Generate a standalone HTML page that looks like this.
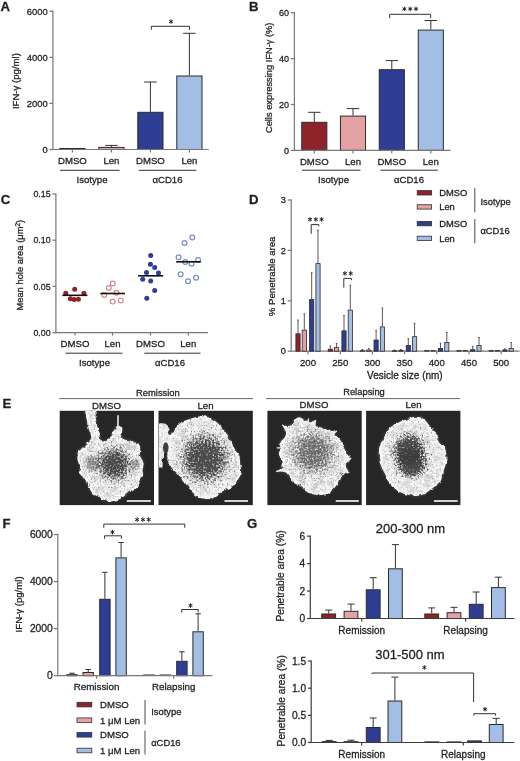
<!DOCTYPE html>
<html><head><meta charset="utf-8"><title>Figure</title>
<style>
html,body{margin:0;padding:0;background:#fff;}
body{width:520px;height:761px;overflow:hidden;font-family:"Liberation Sans",sans-serif;}
svg{display:block;will-change:transform;filter:blur(0.3px);}
text{font-family:"Liberation Sans",sans-serif;stroke:#1e1e1e;stroke-width:0.28px;paint-order:stroke;}
</style></head><body>
<svg width="520" height="761" viewBox="0 0 520 761" font-family="Liberation Sans, sans-serif" fill="#1e1e1e"><defs>
<radialGradient id="core"><stop offset="0" stop-color="#000" stop-opacity="1"/><stop offset="0.45" stop-color="#000" stop-opacity="0.85"/><stop offset="1" stop-color="#000" stop-opacity="0"/></radialGradient>
<filter id="glow" x="-20%" y="-20%" width="140%" height="140%"><feGaussianBlur stdDeviation="1.8"/></filter>
<filter id="rimblur" x="-10%" y="-10%" width="120%" height="120%"><feGaussianBlur stdDeviation="0.8"/></filter>
<filter id="rough0" x="-10%" y="-10%" width="120%" height="120%"><feTurbulence type="fractalNoise" baseFrequency="0.22" numOctaves="2" seed="2" result="t"/><feDisplacementMap in="SourceGraphic" in2="t" scale="4" xChannelSelector="R" yChannelSelector="G"/></filter>
<filter id="fleck0" x="0" y="0" width="100%" height="100%"><feTurbulence type="fractalNoise" baseFrequency="0.16" numOctaves="2" seed="20" result="t1"/><feColorMatrix in="t1" type="matrix" values="0 0 0 0 0.55  0 0 0 0 0.55  0 0 0 0 0.55  2.4 0 0 0 -1.05" result="a1"/><feTurbulence type="fractalNoise" baseFrequency="0.55" numOctaves="2" seed="60" result="t2"/><feColorMatrix in="t2" type="matrix" values="0 0 0 0 0.4  0 0 0 0 0.4  0 0 0 0 0.4  3.0 0 0 0 -1.45" result="a2"/><feMerge><feMergeNode in="a1"/><feMergeNode in="a2"/></feMerge></filter>
<filter id="dither0" x="-5%" y="-5%" width="110%" height="110%"><feTurbulence type="fractalNoise" baseFrequency="0.55" numOctaves="2" seed="40" result="n"/><feColorMatrix in="n" type="matrix" values="0 0 0 0 0  0 0 0 0 0  0 0 0 0 0  1 0 0 0 0" result="na"/><feComposite in="SourceAlpha" in2="na" operator="arithmetic" k1="0" k2="1" k3="1.8" k4="-0.9" result="sum"/><feComponentTransfer in="sum" result="th"><feFuncA type="linear" slope="1.5" intercept="-0.35"/></feComponentTransfer><feFlood flood-color="#4a4a4a"/><feComposite in2="th" operator="in"/></filter>
<filter id="rough1" x="-10%" y="-10%" width="120%" height="120%"><feTurbulence type="fractalNoise" baseFrequency="0.22" numOctaves="2" seed="3" result="t"/><feDisplacementMap in="SourceGraphic" in2="t" scale="4" xChannelSelector="R" yChannelSelector="G"/></filter>
<filter id="fleck1" x="0" y="0" width="100%" height="100%"><feTurbulence type="fractalNoise" baseFrequency="0.16" numOctaves="2" seed="21" result="t1"/><feColorMatrix in="t1" type="matrix" values="0 0 0 0 0.55  0 0 0 0 0.55  0 0 0 0 0.55  2.4 0 0 0 -1.05" result="a1"/><feTurbulence type="fractalNoise" baseFrequency="0.55" numOctaves="2" seed="61" result="t2"/><feColorMatrix in="t2" type="matrix" values="0 0 0 0 0.4  0 0 0 0 0.4  0 0 0 0 0.4  3.0 0 0 0 -1.45" result="a2"/><feMerge><feMergeNode in="a1"/><feMergeNode in="a2"/></feMerge></filter>
<filter id="dither1" x="-5%" y="-5%" width="110%" height="110%"><feTurbulence type="fractalNoise" baseFrequency="0.55" numOctaves="2" seed="41" result="n"/><feColorMatrix in="n" type="matrix" values="0 0 0 0 0  0 0 0 0 0  0 0 0 0 0  1 0 0 0 0" result="na"/><feComposite in="SourceAlpha" in2="na" operator="arithmetic" k1="0" k2="1" k3="1.7" k4="-0.85" result="sum"/><feComponentTransfer in="sum" result="th"><feFuncA type="linear" slope="1.6" intercept="-0.35"/></feComponentTransfer><feFlood flood-color="#4c4c4c"/><feComposite in2="th" operator="in"/></filter>
<filter id="rough2" x="-10%" y="-10%" width="120%" height="120%"><feTurbulence type="fractalNoise" baseFrequency="0.22" numOctaves="2" seed="4" result="t"/><feDisplacementMap in="SourceGraphic" in2="t" scale="4" xChannelSelector="R" yChannelSelector="G"/></filter>
<filter id="fleck2" x="0" y="0" width="100%" height="100%"><feTurbulence type="fractalNoise" baseFrequency="0.16" numOctaves="2" seed="22" result="t1"/><feColorMatrix in="t1" type="matrix" values="0 0 0 0 0.55  0 0 0 0 0.55  0 0 0 0 0.55  2.4 0 0 0 -1.05" result="a1"/><feTurbulence type="fractalNoise" baseFrequency="0.55" numOctaves="2" seed="62" result="t2"/><feColorMatrix in="t2" type="matrix" values="0 0 0 0 0.4  0 0 0 0 0.4  0 0 0 0 0.4  3.0 0 0 0 -1.45" result="a2"/><feMerge><feMergeNode in="a1"/><feMergeNode in="a2"/></feMerge></filter>
<filter id="dither2" x="-5%" y="-5%" width="110%" height="110%"><feTurbulence type="fractalNoise" baseFrequency="0.55" numOctaves="2" seed="42" result="n"/><feColorMatrix in="n" type="matrix" values="0 0 0 0 0  0 0 0 0 0  0 0 0 0 0  1 0 0 0 0" result="na"/><feComposite in="SourceAlpha" in2="na" operator="arithmetic" k1="0" k2="1" k3="2.0" k4="-1.0" result="sum"/><feComponentTransfer in="sum" result="th"><feFuncA type="linear" slope="1.25" intercept="-0.3"/></feComponentTransfer><feFlood flood-color="#505050"/><feComposite in2="th" operator="in"/></filter>
<filter id="rough3" x="-10%" y="-10%" width="120%" height="120%"><feTurbulence type="fractalNoise" baseFrequency="0.22" numOctaves="2" seed="5" result="t"/><feDisplacementMap in="SourceGraphic" in2="t" scale="4" xChannelSelector="R" yChannelSelector="G"/></filter>
<filter id="fleck3" x="0" y="0" width="100%" height="100%"><feTurbulence type="fractalNoise" baseFrequency="0.16" numOctaves="2" seed="23" result="t1"/><feColorMatrix in="t1" type="matrix" values="0 0 0 0 0.55  0 0 0 0 0.55  0 0 0 0 0.55  2.4 0 0 0 -1.05" result="a1"/><feTurbulence type="fractalNoise" baseFrequency="0.55" numOctaves="2" seed="63" result="t2"/><feColorMatrix in="t2" type="matrix" values="0 0 0 0 0.4  0 0 0 0 0.4  0 0 0 0 0.4  3.0 0 0 0 -1.45" result="a2"/><feMerge><feMergeNode in="a1"/><feMergeNode in="a2"/></feMerge></filter>
<filter id="dither3" x="-5%" y="-5%" width="110%" height="110%"><feTurbulence type="fractalNoise" baseFrequency="0.55" numOctaves="2" seed="43" result="n"/><feColorMatrix in="n" type="matrix" values="0 0 0 0 0  0 0 0 0 0  0 0 0 0 0  1 0 0 0 0" result="na"/><feComposite in="SourceAlpha" in2="na" operator="arithmetic" k1="0" k2="1" k3="1.5" k4="-0.75" result="sum"/><feComponentTransfer in="sum" result="th"><feFuncA type="linear" slope="1.9" intercept="-0.4"/></feComponentTransfer><feFlood flood-color="#3a3a3a"/><feComposite in2="th" operator="in"/></filter>
</defs><text x="0.6" y="10.6" font-size="13.2" text-anchor="start" font-weight="bold" >A</text>
<line x1="52.9" y1="10.6" x2="52.9" y2="150.1" stroke="#777777" stroke-width="1.2"/>
<line x1="49.4" y1="149.5" x2="52.9" y2="149.5" stroke="#777777" stroke-width="1.2"/>
<text x="47.6" y="152.87" font-size="9.4" text-anchor="end" font-weight="normal" >0</text>
<line x1="49.4" y1="103.4" x2="52.9" y2="103.4" stroke="#777777" stroke-width="1.2"/>
<text x="47.6" y="106.77" font-size="9.4" text-anchor="end" font-weight="normal" >2000</text>
<line x1="49.4" y1="57.3" x2="52.9" y2="57.3" stroke="#777777" stroke-width="1.2"/>
<text x="47.6" y="60.67" font-size="9.4" text-anchor="end" font-weight="normal" >4000</text>
<line x1="49.4" y1="11.2" x2="52.9" y2="11.2" stroke="#777777" stroke-width="1.2"/>
<text x="47.6" y="14.57" font-size="9.4" text-anchor="end" font-weight="normal" >6000</text>
<text x="0" y="0" font-size="9.6" text-anchor="middle" transform="translate(19 81.1) rotate(-90)" >IFN-&#947; (pg/ml)</text>
<rect x="59.8" y="148.5" width="25.2" height="1" fill="#8e2329" stroke="#2b2b2b" stroke-width="1"/>
<line x1="111.4" y1="146.9" x2="111.4" y2="145.4" stroke="#333" stroke-width="1"/>
<line x1="105.15" y1="145.4" x2="117.65" y2="145.4" stroke="#333" stroke-width="1"/>
<rect x="98.8" y="147.4" width="25.2" height="2.1" fill="#e4a1a4" stroke="#2b2b2b" stroke-width="1"/>
<line x1="150.4" y1="111.8" x2="150.4" y2="82" stroke="#333" stroke-width="1"/>
<line x1="144.15" y1="82" x2="156.65" y2="82" stroke="#333" stroke-width="1"/>
<rect x="137.8" y="112.3" width="25.2" height="37.2" fill="#2f3e94" stroke="#2b2b2b" stroke-width="1"/>
<line x1="189.4" y1="75.5" x2="189.4" y2="33.3" stroke="#333" stroke-width="1"/>
<line x1="183.15" y1="33.3" x2="195.65" y2="33.3" stroke="#333" stroke-width="1"/>
<rect x="176.8" y="76" width="25.2" height="73.5" fill="#a3bee4" stroke="#2b2b2b" stroke-width="1"/>
<line x1="52.9" y1="149.5" x2="208.8" y2="149.5" stroke="#777777" stroke-width="1.2"/>
<line x1="72.4" y1="149.5" x2="72.4" y2="152.5" stroke="#777777" stroke-width="1.2"/>
<line x1="111.4" y1="149.5" x2="111.4" y2="152.5" stroke="#777777" stroke-width="1.2"/>
<line x1="150.4" y1="149.5" x2="150.4" y2="152.5" stroke="#777777" stroke-width="1.2"/>
<line x1="189.4" y1="149.5" x2="189.4" y2="152.5" stroke="#777777" stroke-width="1.2"/>
<text x="72.4" y="164.24" font-size="9.6" text-anchor="middle" font-weight="normal" >DMSO</text>
<text x="111.4" y="164.24" font-size="9.6" text-anchor="middle" font-weight="normal" >Len</text>
<text x="150.4" y="164.24" font-size="9.6" text-anchor="middle" font-weight="normal" >DMSO</text>
<text x="189.4" y="164.24" font-size="9.6" text-anchor="middle" font-weight="normal" >Len</text>
<line x1="60" y1="170.3" x2="119.6" y2="170.3" stroke="#333" stroke-width="1"/>
<line x1="138.8" y1="170.3" x2="196.3" y2="170.3" stroke="#333" stroke-width="1"/>
<text x="92" y="182.74" font-size="9.6" text-anchor="middle" font-weight="normal" >Isotype</text>
<text x="167.5" y="182.74" font-size="9.6" text-anchor="middle" font-weight="normal" >&#945;CD16</text>
<polyline points="151.3,29.8 151.3,26.3 189.5,26.3 189.5,29.8" fill="none" stroke="#333" stroke-width="1"/>
<line x1="171" y1="19.35" x2="171" y2="23.85" stroke="#222" stroke-width="1"/>
<line x1="169.05" y1="20.48" x2="172.95" y2="22.73" stroke="#222" stroke-width="1"/>
<line x1="172.95" y1="20.48" x2="169.05" y2="22.73" stroke="#222" stroke-width="1"/>
<text x="249" y="10.6" font-size="13.2" text-anchor="start" font-weight="bold" >B</text>
<line x1="294.4" y1="12" x2="294.4" y2="151" stroke="#777777" stroke-width="1.2"/>
<line x1="290.9" y1="150.4" x2="294.4" y2="150.4" stroke="#777777" stroke-width="1.2"/>
<text x="289.1" y="153.62" font-size="9" text-anchor="end" font-weight="normal" >0</text>
<line x1="290.9" y1="104.5" x2="294.4" y2="104.5" stroke="#777777" stroke-width="1.2"/>
<text x="289.1" y="107.72" font-size="9" text-anchor="end" font-weight="normal" >20</text>
<line x1="290.9" y1="58.6" x2="294.4" y2="58.6" stroke="#777777" stroke-width="1.2"/>
<text x="289.1" y="61.82" font-size="9" text-anchor="end" font-weight="normal" >40</text>
<line x1="290.9" y1="12.7" x2="294.4" y2="12.7" stroke="#777777" stroke-width="1.2"/>
<text x="289.1" y="15.92" font-size="9" text-anchor="end" font-weight="normal" >60</text>
<text x="0" y="0" font-size="9.3" text-anchor="middle" transform="translate(272.43 77.8) rotate(-90)" >Cells expressing IFN-&#947; (%)</text>
<line x1="314.3" y1="121.8" x2="314.3" y2="112.3" stroke="#333" stroke-width="1"/>
<line x1="308.05" y1="112.3" x2="320.55" y2="112.3" stroke="#333" stroke-width="1"/>
<rect x="301.75" y="122.3" width="25.1" height="28.1" fill="#8e2329" stroke="#2b2b2b" stroke-width="1"/>
<line x1="353" y1="115.6" x2="353" y2="108.6" stroke="#333" stroke-width="1"/>
<line x1="346.75" y1="108.6" x2="359.25" y2="108.6" stroke="#333" stroke-width="1"/>
<rect x="340.45" y="116.1" width="25.1" height="34.3" fill="#e4a1a4" stroke="#2b2b2b" stroke-width="1"/>
<line x1="391.8" y1="69.2" x2="391.8" y2="60.6" stroke="#333" stroke-width="1"/>
<line x1="385.55" y1="60.6" x2="398.05" y2="60.6" stroke="#333" stroke-width="1"/>
<rect x="379.25" y="69.7" width="25.1" height="80.7" fill="#2f3e94" stroke="#2b2b2b" stroke-width="1"/>
<line x1="430.8" y1="29.6" x2="430.8" y2="20.5" stroke="#333" stroke-width="1"/>
<line x1="424.55" y1="20.5" x2="437.05" y2="20.5" stroke="#333" stroke-width="1"/>
<rect x="418.25" y="30.1" width="25.1" height="120.3" fill="#a3bee4" stroke="#2b2b2b" stroke-width="1"/>
<line x1="294.4" y1="150.4" x2="450.5" y2="150.4" stroke="#777777" stroke-width="1.2"/>
<line x1="314.3" y1="150.4" x2="314.3" y2="153.4" stroke="#777777" stroke-width="1.2"/>
<line x1="353" y1="150.4" x2="353" y2="153.4" stroke="#777777" stroke-width="1.2"/>
<line x1="391.8" y1="150.4" x2="391.8" y2="153.4" stroke="#777777" stroke-width="1.2"/>
<line x1="430.8" y1="150.4" x2="430.8" y2="153.4" stroke="#777777" stroke-width="1.2"/>
<text x="314.3" y="164.84" font-size="9.6" text-anchor="middle" font-weight="normal" >DMSO</text>
<text x="353" y="164.84" font-size="9.6" text-anchor="middle" font-weight="normal" >Len</text>
<text x="391.8" y="164.84" font-size="9.6" text-anchor="middle" font-weight="normal" >DMSO</text>
<text x="430.8" y="164.84" font-size="9.6" text-anchor="middle" font-weight="normal" >Len</text>
<line x1="302" y1="170.2" x2="360.4" y2="170.2" stroke="#333" stroke-width="1"/>
<line x1="380.4" y1="170.2" x2="437.9" y2="170.2" stroke="#333" stroke-width="1"/>
<text x="333.5" y="183.34" font-size="9.6" text-anchor="middle" font-weight="normal" >Isotype</text>
<text x="409" y="183.34" font-size="9.6" text-anchor="middle" font-weight="normal" >&#945;CD16</text>
<polyline points="389.7,18.3 389.7,14.3 430.6,14.3 430.6,18.3" fill="none" stroke="#333" stroke-width="1"/>
<line x1="404.4" y1="6.65" x2="404.4" y2="11.15" stroke="#222" stroke-width="1"/>
<line x1="402.45" y1="7.78" x2="406.35" y2="10.03" stroke="#222" stroke-width="1"/>
<line x1="406.35" y1="7.78" x2="402.45" y2="10.03" stroke="#222" stroke-width="1"/>
<line x1="410.2" y1="6.65" x2="410.2" y2="11.15" stroke="#222" stroke-width="1"/>
<line x1="408.25" y1="7.78" x2="412.15" y2="10.03" stroke="#222" stroke-width="1"/>
<line x1="412.15" y1="7.78" x2="408.25" y2="10.03" stroke="#222" stroke-width="1"/>
<line x1="416" y1="6.65" x2="416" y2="11.15" stroke="#222" stroke-width="1"/>
<line x1="414.05" y1="7.78" x2="417.95" y2="10.03" stroke="#222" stroke-width="1"/>
<line x1="417.95" y1="7.78" x2="414.05" y2="10.03" stroke="#222" stroke-width="1"/>
<text x="0.7" y="204" font-size="13.2" text-anchor="start" font-weight="bold" >C</text>
<line x1="55.9" y1="193.4" x2="55.9" y2="333.2" stroke="#777777" stroke-width="1.2"/>
<line x1="52.4" y1="332.6" x2="55.9" y2="332.6" stroke="#777777" stroke-width="1.2"/>
<text x="50.6" y="335.75" font-size="8.8" text-anchor="end" font-weight="normal" >0.00</text>
<line x1="52.4" y1="286.4" x2="55.9" y2="286.4" stroke="#777777" stroke-width="1.2"/>
<text x="50.6" y="289.55" font-size="8.8" text-anchor="end" font-weight="normal" >0.05</text>
<line x1="52.4" y1="240.2" x2="55.9" y2="240.2" stroke="#777777" stroke-width="1.2"/>
<text x="50.6" y="243.35" font-size="8.8" text-anchor="end" font-weight="normal" >0.10</text>
<line x1="52.4" y1="194" x2="55.9" y2="194" stroke="#777777" stroke-width="1.2"/>
<text x="50.6" y="197.15" font-size="8.8" text-anchor="end" font-weight="normal" >0.15</text>
<text x="0" y="0" font-size="9.4" text-anchor="middle" transform="translate(23.35 265.2) rotate(-90)" >Mean hole area (&#956;m<tspan font-size="6.5" dy="-3.5">2</tspan><tspan dy="3.5">)</tspan></text>
<line x1="55.9" y1="332.6" x2="208" y2="332.6" stroke="#777777" stroke-width="1.2"/>
<line x1="75" y1="332.6" x2="75" y2="335.6" stroke="#777777" stroke-width="1.2"/>
<line x1="112.5" y1="332.6" x2="112.5" y2="335.6" stroke="#777777" stroke-width="1.2"/>
<line x1="150.5" y1="332.6" x2="150.5" y2="335.6" stroke="#777777" stroke-width="1.2"/>
<line x1="188.3" y1="332.6" x2="188.3" y2="335.6" stroke="#777777" stroke-width="1.2"/>
<text x="75" y="347.24" font-size="9.6" text-anchor="middle" font-weight="normal" >DMSO</text>
<text x="112.5" y="347.24" font-size="9.6" text-anchor="middle" font-weight="normal" >Len</text>
<text x="150.5" y="347.24" font-size="9.6" text-anchor="middle" font-weight="normal" >DMSO</text>
<text x="188.3" y="347.24" font-size="9.6" text-anchor="middle" font-weight="normal" >Len</text>
<line x1="65.5" y1="353.2" x2="122.5" y2="353.2" stroke="#333" stroke-width="1"/>
<line x1="144.3" y1="353.2" x2="200.5" y2="353.2" stroke="#333" stroke-width="1"/>
<text x="94.5" y="366.44" font-size="9.6" text-anchor="middle" font-weight="normal" >Isotype</text>
<text x="170" y="366.44" font-size="9.6" text-anchor="middle" font-weight="normal" >&#945;CD16</text>
<circle cx="65.8" cy="293.2" r="2.5" fill="#8e2329"/>
<circle cx="74.7" cy="289.2" r="2.5" fill="#8e2329"/>
<circle cx="83.9" cy="293.2" r="2.5" fill="#8e2329"/>
<circle cx="70.4" cy="298.8" r="2.5" fill="#8e2329"/>
<circle cx="74.2" cy="299.6" r="2.5" fill="#8e2329"/>
<circle cx="78.4" cy="299.2" r="2.5" fill="#8e2329"/>
<circle cx="112.7" cy="283.5" r="2.4" fill="none" stroke="#d38a8d" stroke-width="1.2"/>
<circle cx="108.8" cy="288.1" r="2.4" fill="none" stroke="#d38a8d" stroke-width="1.2"/>
<circle cx="104.2" cy="295" r="2.4" fill="none" stroke="#d38a8d" stroke-width="1.2"/>
<circle cx="116.5" cy="292.7" r="2.4" fill="none" stroke="#d38a8d" stroke-width="1.2"/>
<circle cx="112.7" cy="301.6" r="2.4" fill="none" stroke="#d38a8d" stroke-width="1.2"/>
<circle cx="120.8" cy="300.4" r="2.4" fill="none" stroke="#d38a8d" stroke-width="1.2"/>
<circle cx="150.7" cy="255.4" r="2.5" fill="#2f3e94"/>
<circle cx="150.4" cy="264.3" r="2.5" fill="#2f3e94"/>
<circle cx="154.7" cy="267.4" r="2.5" fill="#2f3e94"/>
<circle cx="146.5" cy="272.6" r="2.5" fill="#2f3e94"/>
<circle cx="158.5" cy="273.1" r="2.5" fill="#2f3e94"/>
<circle cx="142.7" cy="279.2" r="2.5" fill="#2f3e94"/>
<circle cx="150.7" cy="281.1" r="2.5" fill="#2f3e94"/>
<circle cx="154.7" cy="290.5" r="2.5" fill="#2f3e94"/>
<circle cx="146.8" cy="298.2" r="2.5" fill="#2f3e94"/>
<circle cx="192.3" cy="237.5" r="2.4" fill="none" stroke="#7b8dbd" stroke-width="1.2"/>
<circle cx="184.5" cy="243" r="2.4" fill="none" stroke="#7b8dbd" stroke-width="1.2"/>
<circle cx="178.6" cy="257.2" r="2.4" fill="none" stroke="#7b8dbd" stroke-width="1.2"/>
<circle cx="185.3" cy="262" r="2.4" fill="none" stroke="#7b8dbd" stroke-width="1.2"/>
<circle cx="191.5" cy="263.8" r="2.4" fill="none" stroke="#7b8dbd" stroke-width="1.2"/>
<circle cx="198.1" cy="260" r="2.4" fill="none" stroke="#7b8dbd" stroke-width="1.2"/>
<circle cx="180.7" cy="274.2" r="2.4" fill="none" stroke="#7b8dbd" stroke-width="1.2"/>
<circle cx="188.1" cy="281.2" r="2.4" fill="none" stroke="#7b8dbd" stroke-width="1.2"/>
<circle cx="196.1" cy="277.7" r="2.4" fill="none" stroke="#7b8dbd" stroke-width="1.2"/>
<line x1="62.4" y1="295.3" x2="87.4" y2="295.3" stroke="#111" stroke-width="1.6"/>
<line x1="100.4" y1="293.5" x2="125" y2="293.5" stroke="#111" stroke-width="1.6"/>
<line x1="138" y1="275.8" x2="163.2" y2="275.8" stroke="#111" stroke-width="1.6"/>
<line x1="176.2" y1="261.8" x2="200.8" y2="261.8" stroke="#111" stroke-width="1.6"/>
<text x="249" y="204.1" font-size="13.2" text-anchor="start" font-weight="bold" >D</text>
<line x1="291.2" y1="199.2" x2="291.2" y2="351.8" stroke="#777777" stroke-width="1.2"/>
<line x1="287.7" y1="351.2" x2="291.2" y2="351.2" stroke="#777777" stroke-width="1.2"/>
<text x="285.9" y="354.49" font-size="9.2" text-anchor="end" font-weight="normal" >0</text>
<line x1="287.7" y1="300.8" x2="291.2" y2="300.8" stroke="#777777" stroke-width="1.2"/>
<text x="285.9" y="304.09" font-size="9.2" text-anchor="end" font-weight="normal" >1</text>
<line x1="287.7" y1="250.4" x2="291.2" y2="250.4" stroke="#777777" stroke-width="1.2"/>
<text x="285.9" y="253.69" font-size="9.2" text-anchor="end" font-weight="normal" >2</text>
<line x1="287.7" y1="200" x2="291.2" y2="200" stroke="#777777" stroke-width="1.2"/>
<text x="285.9" y="203.29" font-size="9.2" text-anchor="end" font-weight="normal" >3</text>
<text x="0" y="0" font-size="9.6" text-anchor="middle" transform="translate(274.6 276.4) rotate(-90)" >% Penetrable area</text>
<line x1="291.2" y1="351.2" x2="519.5" y2="351.2" stroke="#777777" stroke-width="1.2"/>
<line x1="308" y1="351.2" x2="308" y2="354.2" stroke="#777777" stroke-width="1.2"/>
<line x1="340.3" y1="351.2" x2="340.3" y2="354.2" stroke="#777777" stroke-width="1.2"/>
<line x1="372.4" y1="351.2" x2="372.4" y2="354.2" stroke="#777777" stroke-width="1.2"/>
<line x1="404.6" y1="351.2" x2="404.6" y2="354.2" stroke="#777777" stroke-width="1.2"/>
<line x1="436.8" y1="351.2" x2="436.8" y2="354.2" stroke="#777777" stroke-width="1.2"/>
<line x1="469" y1="351.2" x2="469" y2="354.2" stroke="#777777" stroke-width="1.2"/>
<line x1="501.2" y1="351.2" x2="501.2" y2="354.2" stroke="#777777" stroke-width="1.2"/>
<text x="308" y="365.84" font-size="9.6" text-anchor="middle" font-weight="normal" >200</text>
<text x="340.3" y="365.84" font-size="9.6" text-anchor="middle" font-weight="normal" >250</text>
<text x="372.4" y="365.84" font-size="9.6" text-anchor="middle" font-weight="normal" >300</text>
<text x="404.6" y="365.84" font-size="9.6" text-anchor="middle" font-weight="normal" >350</text>
<text x="436.8" y="365.84" font-size="9.6" text-anchor="middle" font-weight="normal" >400</text>
<text x="469" y="365.84" font-size="9.6" text-anchor="middle" font-weight="normal" >450</text>
<text x="501.2" y="365.84" font-size="9.6" text-anchor="middle" font-weight="normal" >500</text>
<text x="404.9" y="378.98" font-size="10" text-anchor="middle" font-weight="normal" >Vesicle size (nm)</text>
<line x1="298" y1="333.4" x2="298" y2="320" stroke="#444" stroke-width="0.9"/>
<line x1="297.2" y1="320" x2="298.8" y2="320" stroke="#444" stroke-width="0.9"/>
<rect x="295.9" y="333.8" width="4.2" height="17.4" fill="#8e2329" stroke="#2b2b2b" stroke-width="0.8"/>
<line x1="304.3" y1="329.7" x2="304.3" y2="313.8" stroke="#444" stroke-width="0.9"/>
<line x1="303.5" y1="313.8" x2="305.1" y2="313.8" stroke="#444" stroke-width="0.9"/>
<rect x="302.2" y="330.1" width="4.2" height="21.1" fill="#e4a1a4" stroke="#2b2b2b" stroke-width="0.8"/>
<line x1="311.7" y1="299.2" x2="311.7" y2="272.7" stroke="#444" stroke-width="0.9"/>
<line x1="310.9" y1="272.7" x2="312.5" y2="272.7" stroke="#444" stroke-width="0.9"/>
<rect x="309.6" y="299.6" width="4.2" height="51.6" fill="#2f3e94" stroke="#2b2b2b" stroke-width="0.8"/>
<line x1="318" y1="263.2" x2="318" y2="230" stroke="#444" stroke-width="0.9"/>
<line x1="317.2" y1="230" x2="318.8" y2="230" stroke="#444" stroke-width="0.9"/>
<rect x="315.9" y="263.6" width="4.2" height="87.6" fill="#a3bee4" stroke="#2b2b2b" stroke-width="0.8"/>
<line x1="330.3" y1="348.8" x2="330.3" y2="346" stroke="#444" stroke-width="0.9"/>
<line x1="329.5" y1="346" x2="331.1" y2="346" stroke="#444" stroke-width="0.9"/>
<rect x="328.2" y="349.2" width="4.2" height="2" fill="#8e2329" stroke="#2b2b2b" stroke-width="0.8"/>
<line x1="336.6" y1="347.2" x2="336.6" y2="343.5" stroke="#444" stroke-width="0.9"/>
<line x1="335.8" y1="343.5" x2="337.4" y2="343.5" stroke="#444" stroke-width="0.9"/>
<rect x="334.5" y="347.6" width="4.2" height="3.6" fill="#e4a1a4" stroke="#2b2b2b" stroke-width="0.8"/>
<line x1="344" y1="330.4" x2="344" y2="315.4" stroke="#444" stroke-width="0.9"/>
<line x1="343.2" y1="315.4" x2="344.8" y2="315.4" stroke="#444" stroke-width="0.9"/>
<rect x="341.9" y="330.8" width="4.2" height="20.4" fill="#2f3e94" stroke="#2b2b2b" stroke-width="0.8"/>
<line x1="350.3" y1="309.7" x2="350.3" y2="285.3" stroke="#444" stroke-width="0.9"/>
<line x1="349.5" y1="285.3" x2="351.1" y2="285.3" stroke="#444" stroke-width="0.9"/>
<rect x="348.2" y="310.1" width="4.2" height="41.1" fill="#a3bee4" stroke="#2b2b2b" stroke-width="0.8"/>
<line x1="362.4" y1="350.3" x2="362.4" y2="349.5" stroke="#444" stroke-width="0.9"/>
<line x1="361.6" y1="349.5" x2="363.2" y2="349.5" stroke="#444" stroke-width="0.9"/>
<rect x="360.3" y="350.7" width="4.2" height="0.5" fill="#8e2329" stroke="#2b2b2b" stroke-width="0.8"/>
<line x1="368.7" y1="349.6" x2="368.7" y2="348.4" stroke="#444" stroke-width="0.9"/>
<line x1="367.9" y1="348.4" x2="369.5" y2="348.4" stroke="#444" stroke-width="0.9"/>
<rect x="366.6" y="350" width="4.2" height="1.2" fill="#e4a1a4" stroke="#2b2b2b" stroke-width="0.8"/>
<line x1="376.1" y1="339.6" x2="376.1" y2="330.4" stroke="#444" stroke-width="0.9"/>
<line x1="375.3" y1="330.4" x2="376.9" y2="330.4" stroke="#444" stroke-width="0.9"/>
<rect x="374" y="340" width="4.2" height="11.2" fill="#2f3e94" stroke="#2b2b2b" stroke-width="0.8"/>
<line x1="382.4" y1="326.5" x2="382.4" y2="308" stroke="#444" stroke-width="0.9"/>
<line x1="381.6" y1="308" x2="383.2" y2="308" stroke="#444" stroke-width="0.9"/>
<rect x="380.3" y="326.9" width="4.2" height="24.3" fill="#a3bee4" stroke="#2b2b2b" stroke-width="0.8"/>
<line x1="394.6" y1="350.4" x2="394.6" y2="350" stroke="#444" stroke-width="0.9"/>
<line x1="393.8" y1="350" x2="395.4" y2="350" stroke="#444" stroke-width="0.9"/>
<rect x="392.5" y="350.8" width="4.2" height="0.5" fill="#8e2329" stroke="#2b2b2b" stroke-width="0.8"/>
<line x1="400.9" y1="350" x2="400.9" y2="349.4" stroke="#444" stroke-width="0.9"/>
<line x1="400.1" y1="349.4" x2="401.7" y2="349.4" stroke="#444" stroke-width="0.9"/>
<rect x="398.8" y="350.4" width="4.2" height="0.8" fill="#e4a1a4" stroke="#2b2b2b" stroke-width="0.8"/>
<line x1="408.3" y1="345" x2="408.3" y2="338.8" stroke="#444" stroke-width="0.9"/>
<line x1="407.5" y1="338.8" x2="409.1" y2="338.8" stroke="#444" stroke-width="0.9"/>
<rect x="406.2" y="345.4" width="4.2" height="5.8" fill="#2f3e94" stroke="#2b2b2b" stroke-width="0.8"/>
<line x1="414.6" y1="336.3" x2="414.6" y2="323.3" stroke="#444" stroke-width="0.9"/>
<line x1="413.8" y1="323.3" x2="415.4" y2="323.3" stroke="#444" stroke-width="0.9"/>
<rect x="412.5" y="336.7" width="4.2" height="14.5" fill="#a3bee4" stroke="#2b2b2b" stroke-width="0.8"/>
<rect x="424.7" y="350.6" width="4.2" height="0.5" fill="#8e2329" stroke="#2b2b2b" stroke-width="0.8"/>
<rect x="431" y="350.6" width="4.2" height="0.5" fill="#e4a1a4" stroke="#2b2b2b" stroke-width="0.8"/>
<line x1="440.5" y1="348" x2="440.5" y2="343.3" stroke="#444" stroke-width="0.9"/>
<line x1="439.7" y1="343.3" x2="441.3" y2="343.3" stroke="#444" stroke-width="0.9"/>
<rect x="438.4" y="348.4" width="4.2" height="2.8" fill="#2f3e94" stroke="#2b2b2b" stroke-width="0.8"/>
<line x1="446.8" y1="342" x2="446.8" y2="332.5" stroke="#444" stroke-width="0.9"/>
<line x1="446" y1="332.5" x2="447.6" y2="332.5" stroke="#444" stroke-width="0.9"/>
<rect x="444.7" y="342.4" width="4.2" height="8.8" fill="#a3bee4" stroke="#2b2b2b" stroke-width="0.8"/>
<rect x="456.9" y="350.6" width="4.2" height="0.5" fill="#8e2329" stroke="#2b2b2b" stroke-width="0.8"/>
<rect x="463.2" y="350.6" width="4.2" height="0.5" fill="#e4a1a4" stroke="#2b2b2b" stroke-width="0.8"/>
<line x1="472.7" y1="349.3" x2="472.7" y2="346.3" stroke="#444" stroke-width="0.9"/>
<line x1="471.9" y1="346.3" x2="473.5" y2="346.3" stroke="#444" stroke-width="0.9"/>
<rect x="470.6" y="349.7" width="4.2" height="1.5" fill="#2f3e94" stroke="#2b2b2b" stroke-width="0.8"/>
<line x1="479" y1="345" x2="479" y2="337.5" stroke="#444" stroke-width="0.9"/>
<line x1="478.2" y1="337.5" x2="479.8" y2="337.5" stroke="#444" stroke-width="0.9"/>
<rect x="476.9" y="345.4" width="4.2" height="5.8" fill="#a3bee4" stroke="#2b2b2b" stroke-width="0.8"/>
<rect x="489.1" y="350.6" width="4.2" height="0.5" fill="#8e2329" stroke="#2b2b2b" stroke-width="0.8"/>
<rect x="495.4" y="350.6" width="4.2" height="0.5" fill="#e4a1a4" stroke="#2b2b2b" stroke-width="0.8"/>
<line x1="504.9" y1="349.5" x2="504.9" y2="348.8" stroke="#444" stroke-width="0.9"/>
<line x1="504.1" y1="348.8" x2="505.7" y2="348.8" stroke="#444" stroke-width="0.9"/>
<rect x="502.8" y="349.9" width="4.2" height="1.3" fill="#2f3e94" stroke="#2b2b2b" stroke-width="0.8"/>
<line x1="511.2" y1="348" x2="511.2" y2="342.5" stroke="#444" stroke-width="0.9"/>
<line x1="510.4" y1="342.5" x2="512" y2="342.5" stroke="#444" stroke-width="0.9"/>
<rect x="509.1" y="348.4" width="4.2" height="2.8" fill="#a3bee4" stroke="#2b2b2b" stroke-width="0.8"/>
<polyline points="311.2,233.8 311.2,224.6 318.8,224.6 318.8,226.4" fill="none" stroke="#333" stroke-width="1"/>
<line x1="310" y1="217.15" x2="310" y2="221.65" stroke="#222" stroke-width="1"/>
<line x1="308.05" y1="218.28" x2="311.95" y2="220.53" stroke="#222" stroke-width="1"/>
<line x1="311.95" y1="218.28" x2="308.05" y2="220.53" stroke="#222" stroke-width="1"/>
<line x1="315.8" y1="217.15" x2="315.8" y2="221.65" stroke="#222" stroke-width="1"/>
<line x1="313.85" y1="218.28" x2="317.75" y2="220.53" stroke="#222" stroke-width="1"/>
<line x1="317.75" y1="218.28" x2="313.85" y2="220.53" stroke="#222" stroke-width="1"/>
<line x1="321.6" y1="217.15" x2="321.6" y2="221.65" stroke="#222" stroke-width="1"/>
<line x1="319.65" y1="218.28" x2="323.55" y2="220.53" stroke="#222" stroke-width="1"/>
<line x1="323.55" y1="218.28" x2="319.65" y2="220.53" stroke="#222" stroke-width="1"/>
<polyline points="343.8,287.6 343.8,278.4 351.4,278.4 351.4,280.2" fill="none" stroke="#333" stroke-width="1"/>
<line x1="344.9" y1="271.15" x2="344.9" y2="275.65" stroke="#222" stroke-width="1"/>
<line x1="342.95" y1="272.27" x2="346.85" y2="274.52" stroke="#222" stroke-width="1"/>
<line x1="346.85" y1="272.27" x2="342.95" y2="274.52" stroke="#222" stroke-width="1"/>
<line x1="350.7" y1="271.15" x2="350.7" y2="275.65" stroke="#222" stroke-width="1"/>
<line x1="348.75" y1="272.27" x2="352.65" y2="274.52" stroke="#222" stroke-width="1"/>
<line x1="352.65" y1="272.27" x2="348.75" y2="274.52" stroke="#222" stroke-width="1"/>
<rect x="417.2" y="190.6" width="14.4" height="4.4" fill="#8e2329" stroke="#333" stroke-width="0.8"/>
<text x="439.2" y="196.17" font-size="9.4" text-anchor="start" font-weight="normal" >DMSO</text>
<rect x="417.2" y="204.7" width="14.4" height="4.4" fill="#e4a1a4" stroke="#333" stroke-width="0.8"/>
<text x="439.2" y="210.27" font-size="9.4" text-anchor="start" font-weight="normal" >Len</text>
<rect x="417.2" y="221.4" width="14.4" height="4.4" fill="#2f3e94" stroke="#333" stroke-width="0.8"/>
<text x="439.2" y="226.97" font-size="9.4" text-anchor="start" font-weight="normal" >DMSO</text>
<rect x="417.2" y="236.2" width="14.4" height="4.4" fill="#a3bee4" stroke="#333" stroke-width="0.8"/>
<text x="439.2" y="241.77" font-size="9.4" text-anchor="start" font-weight="normal" >Len</text>
<line x1="474.8" y1="188" x2="474.8" y2="212.3" stroke="#3a3a3a" stroke-width="0.9"/>
<line x1="474.8" y1="219" x2="474.8" y2="243.3" stroke="#3a3a3a" stroke-width="0.9"/>
<text x="480.4" y="205.37" font-size="9.4" text-anchor="start" font-weight="normal" >Isotype</text>
<text x="480.4" y="233.67" font-size="9.4" text-anchor="start" font-weight="normal" >&#945;CD16</text>
<text x="2.4" y="408.4" font-size="13.2" text-anchor="start" font-weight="bold" >E</text>
<text x="157.9" y="396.07" font-size="9.4" text-anchor="middle" font-weight="normal" >Remission</text>
<text x="364" y="394.87" font-size="9.4" text-anchor="middle" font-weight="normal" >Relapsing</text>
<line x1="59.3" y1="398.6" x2="253" y2="398.6" stroke="#555" stroke-width="0.9"/>
<line x1="266" y1="398.6" x2="460" y2="398.6" stroke="#555" stroke-width="0.9"/>
<text x="106.5" y="408.74" font-size="9.6" text-anchor="middle" font-weight="normal" >DMSO</text>
<text x="205.5" y="408.74" font-size="9.6" text-anchor="middle" font-weight="normal" >Len</text>
<text x="314" y="408.44" font-size="9.6" text-anchor="middle" font-weight="normal" >DMSO</text>
<text x="413.5" y="408.44" font-size="9.6" text-anchor="middle" font-weight="normal" >Len</text>
<rect x="59.7" y="410.8" width="94.3" height="94.3" fill="#262626"/>
<rect x="158.5" y="410.8" width="94.3" height="94.3" fill="#262626"/>
<rect x="267.4" y="410.8" width="94.3" height="94.3" fill="#262626"/>
<rect x="366.1" y="410.8" width="94.3" height="94.3" fill="#262626"/>
<clipPath id="ic0"><rect x="59.7" y="410.8" width="94.3" height="94.3"/></clipPath>
<mask id="cm0" maskUnits="userSpaceOnUse" x="59.7" y="410.8" width="95" height="95"><g filter="url(#rough0)"><path d="M85.77,410 C87.06,408.46 92.75,408.46 94.45,410 C96.14,411.54 95.37,416.15 95.92,419.23 C96.48,422.31 97.15,425.69 97.77,428.46 C98.38,431.23 99.06,433.75 99.62,435.85 C100.17,437.94 99.86,440.25 101.09,441.02 C102.32,441.78 105.09,441.32 107,440.46 C108.91,439.6 111.55,437.38 112.54,435.85 C113.52,434.31 112.45,432.62 112.91,431.23 C113.37,429.85 114.63,428.37 115.31,427.54 C115.98,426.71 116.32,426.46 116.97,426.25 C117.62,426.03 118.38,426.03 119.18,426.25 C119.98,426.46 121.28,426.71 121.77,427.54 C122.26,428.37 122.29,430 122.14,431.23 C121.98,432.46 120.29,433.54 120.85,434.92 C121.4,436.31 123.46,438.46 125.46,439.54 C127.46,440.62 130.54,440.46 132.85,441.38 C135.15,442.31 138.08,443.54 139.31,445.08 C140.54,446.62 140.17,448.92 140.23,450.62 C140.29,452.31 139.52,454 139.68,455.23 C139.83,456.46 140.51,456.62 141.15,458 C141.8,459.38 143.34,461.54 143.55,463.54 C143.77,465.54 142.54,468 142.45,470 C142.35,472 143.52,473.69 143,475.54 C142.48,477.38 140.38,479.08 139.31,481.08 C138.23,483.08 138.08,485.85 136.54,487.54 C135,489.23 131.92,490 130.08,491.23 C128.23,492.46 127,493.69 125.46,494.92 C123.92,496.15 122.38,497.69 120.85,498.62 C119.31,499.54 117.77,500 116.23,500.46 C114.69,500.92 113.15,501.14 111.62,501.38 C110.08,501.63 108.38,502.25 107,501.94 C105.62,501.63 104.69,500.4 103.31,499.54 C101.92,498.68 100.38,497.69 98.69,496.77 C97,495.85 94.69,495.38 93.15,494 C91.62,492.62 90.54,490.46 89.46,488.46 C88.38,486.46 87.77,484 86.69,482 C85.62,480 84.23,478.15 83,476.46 C81.77,474.77 79.77,473.38 79.31,471.85 C78.85,470.31 80.38,468.77 80.23,467.23 C80.08,465.69 78.85,464.15 78.38,462.62 C77.92,461.08 77.46,460.15 77.46,458 C77.46,455.85 77.77,451.23 78.38,449.69 C79,448.15 79.92,449.38 81.15,448.77 C82.38,448.15 84.85,446.92 85.77,446 C86.69,445.08 85.77,444.62 86.69,443.23 C87.62,441.85 91,440.15 91.31,437.69 C91.62,435.23 89.31,431.54 88.54,428.46 C87.77,425.38 87.15,422.31 86.69,419.23 C86.23,416.15 84.48,411.54 85.77,410Z" fill="#fff"/></g></mask>
<g clip-path="url(#ic0)">
<path d="M85.77,410 C87.06,408.46 92.75,408.46 94.45,410 C96.14,411.54 95.37,416.15 95.92,419.23 C96.48,422.31 97.15,425.69 97.77,428.46 C98.38,431.23 99.06,433.75 99.62,435.85 C100.17,437.94 99.86,440.25 101.09,441.02 C102.32,441.78 105.09,441.32 107,440.46 C108.91,439.6 111.55,437.38 112.54,435.85 C113.52,434.31 112.45,432.62 112.91,431.23 C113.37,429.85 114.63,428.37 115.31,427.54 C115.98,426.71 116.32,426.46 116.97,426.25 C117.62,426.03 118.38,426.03 119.18,426.25 C119.98,426.46 121.28,426.71 121.77,427.54 C122.26,428.37 122.29,430 122.14,431.23 C121.98,432.46 120.29,433.54 120.85,434.92 C121.4,436.31 123.46,438.46 125.46,439.54 C127.46,440.62 130.54,440.46 132.85,441.38 C135.15,442.31 138.08,443.54 139.31,445.08 C140.54,446.62 140.17,448.92 140.23,450.62 C140.29,452.31 139.52,454 139.68,455.23 C139.83,456.46 140.51,456.62 141.15,458 C141.8,459.38 143.34,461.54 143.55,463.54 C143.77,465.54 142.54,468 142.45,470 C142.35,472 143.52,473.69 143,475.54 C142.48,477.38 140.38,479.08 139.31,481.08 C138.23,483.08 138.08,485.85 136.54,487.54 C135,489.23 131.92,490 130.08,491.23 C128.23,492.46 127,493.69 125.46,494.92 C123.92,496.15 122.38,497.69 120.85,498.62 C119.31,499.54 117.77,500 116.23,500.46 C114.69,500.92 113.15,501.14 111.62,501.38 C110.08,501.63 108.38,502.25 107,501.94 C105.62,501.63 104.69,500.4 103.31,499.54 C101.92,498.68 100.38,497.69 98.69,496.77 C97,495.85 94.69,495.38 93.15,494 C91.62,492.62 90.54,490.46 89.46,488.46 C88.38,486.46 87.77,484 86.69,482 C85.62,480 84.23,478.15 83,476.46 C81.77,474.77 79.77,473.38 79.31,471.85 C78.85,470.31 80.38,468.77 80.23,467.23 C80.08,465.69 78.85,464.15 78.38,462.62 C77.92,461.08 77.46,460.15 77.46,458 C77.46,455.85 77.77,451.23 78.38,449.69 C79,448.15 79.92,449.38 81.15,448.77 C82.38,448.15 84.85,446.92 85.77,446 C86.69,445.08 85.77,444.62 86.69,443.23 C87.62,441.85 91,440.15 91.31,437.69 C91.62,435.23 89.31,431.54 88.54,428.46 C87.77,425.38 87.15,422.31 86.69,419.23 C86.23,416.15 84.48,411.54 85.77,410Z" fill="#bbb" opacity="0.3" filter="url(#glow)"/>
<g mask="url(#cm0)">
<rect x="59.7" y="410.8" width="95" height="95" fill="#f7f7f7"/>
<rect x="59.7" y="410.8" width="95" height="95" filter="url(#fleck0)" opacity="0.9"/>
<path d="M85.77,410 C87.06,408.46 92.75,408.46 94.45,410 C96.14,411.54 95.37,416.15 95.92,419.23 C96.48,422.31 97.15,425.69 97.77,428.46 C98.38,431.23 99.06,433.75 99.62,435.85 C100.17,437.94 99.86,440.25 101.09,441.02 C102.32,441.78 105.09,441.32 107,440.46 C108.91,439.6 111.55,437.38 112.54,435.85 C113.52,434.31 112.45,432.62 112.91,431.23 C113.37,429.85 114.63,428.37 115.31,427.54 C115.98,426.71 116.32,426.46 116.97,426.25 C117.62,426.03 118.38,426.03 119.18,426.25 C119.98,426.46 121.28,426.71 121.77,427.54 C122.26,428.37 122.29,430 122.14,431.23 C121.98,432.46 120.29,433.54 120.85,434.92 C121.4,436.31 123.46,438.46 125.46,439.54 C127.46,440.62 130.54,440.46 132.85,441.38 C135.15,442.31 138.08,443.54 139.31,445.08 C140.54,446.62 140.17,448.92 140.23,450.62 C140.29,452.31 139.52,454 139.68,455.23 C139.83,456.46 140.51,456.62 141.15,458 C141.8,459.38 143.34,461.54 143.55,463.54 C143.77,465.54 142.54,468 142.45,470 C142.35,472 143.52,473.69 143,475.54 C142.48,477.38 140.38,479.08 139.31,481.08 C138.23,483.08 138.08,485.85 136.54,487.54 C135,489.23 131.92,490 130.08,491.23 C128.23,492.46 127,493.69 125.46,494.92 C123.92,496.15 122.38,497.69 120.85,498.62 C119.31,499.54 117.77,500 116.23,500.46 C114.69,500.92 113.15,501.14 111.62,501.38 C110.08,501.63 108.38,502.25 107,501.94 C105.62,501.63 104.69,500.4 103.31,499.54 C101.92,498.68 100.38,497.69 98.69,496.77 C97,495.85 94.69,495.38 93.15,494 C91.62,492.62 90.54,490.46 89.46,488.46 C88.38,486.46 87.77,484 86.69,482 C85.62,480 84.23,478.15 83,476.46 C81.77,474.77 79.77,473.38 79.31,471.85 C78.85,470.31 80.38,468.77 80.23,467.23 C80.08,465.69 78.85,464.15 78.38,462.62 C77.92,461.08 77.46,460.15 77.46,458 C77.46,455.85 77.77,451.23 78.38,449.69 C79,448.15 79.92,449.38 81.15,448.77 C82.38,448.15 84.85,446.92 85.77,446 C86.69,445.08 85.77,444.62 86.69,443.23 C87.62,441.85 91,440.15 91.31,437.69 C91.62,435.23 89.31,431.54 88.54,428.46 C87.77,425.38 87.15,422.31 86.69,419.23 C86.23,416.15 84.48,411.54 85.77,410Z" fill="none" stroke="#fdfdfd" stroke-width="3.2" opacity="0.9" filter="url(#rimblur)"/>
<circle cx="113.83" cy="463.91" r="21.78" fill="url(#core)" filter="url(#dither0)" opacity="1"/>
<circle cx="93.15" cy="463.91" r="11.08" fill="url(#core)" filter="url(#dither0)" opacity="0.55"/>
<circle cx="134.32" cy="464.46" r="7.75" fill="url(#core)" filter="url(#dither0)" opacity="0.5"/>
</g>
<line x1="118.08" y1="415.91" x2="117.89" y2="428.46" stroke="#ececec" stroke-width="1.6" stroke-linecap="round"/>
</g>
<clipPath id="ic1"><rect x="158.5" y="410.8" width="94.3" height="94.3"/></clipPath>
<mask id="cm1" maskUnits="userSpaceOnUse" x="158.5" y="410.8" width="95" height="95"><g filter="url(#rough1)"><path d="M183.85,421.08 C186.62,419.85 191.23,418.15 194.92,417.38 C198.62,416.62 202.62,415.85 206,416.46 C209.38,417.08 212.46,419.08 215.23,421.08 C218,423.08 220.46,426 222.62,428.46 C224.77,430.92 226.62,433.38 228.15,435.85 C229.69,438.31 230.62,440.77 231.85,443.23 C233.08,445.69 234.31,448.46 235.54,450.62 C236.77,452.77 238.46,454 239.23,456.15 C240,458.31 239.85,461.08 240.15,463.54 C240.46,466 241.23,468.46 241.08,470.92 C240.92,473.38 240.15,476.15 239.23,478.31 C238.31,480.46 237.08,482.31 235.54,483.85 C234,485.38 232.15,486.31 230,487.54 C227.85,488.77 225.08,489.69 222.62,491.23 C220.15,492.77 218,495.54 215.23,496.77 C212.46,498 209.08,498.62 206,498.62 C202.92,498.62 199.23,498.31 196.77,496.77 C194.31,495.23 193.08,491.54 191.23,489.38 C189.38,487.23 187.54,486 185.69,483.85 C183.85,481.69 182.31,478.92 180.15,476.46 C178,474 174.62,471.23 172.77,469.08 C170.92,466.92 170,465.69 169.08,463.54 C168.15,461.38 167.23,458.92 167.23,456.15 C167.23,453.38 168.46,450 169.08,446.92 C169.69,443.85 170,440.46 170.92,437.69 C171.85,434.92 173.38,432.46 174.62,430.31 C175.85,428.15 176.77,426.31 178.31,424.77 C179.85,423.23 181.08,422.31 183.85,421.08Z" fill="#fff"/><path d="M157,423.8 C160,423.2 164,423 166.5,424.5 C168.5,426 169,429 170.5,431 L173.5,437 L172.5,445 C170,450 166,452 163,455 L162.5,467.5 L157,467.5 Z" fill="#fff"/></g></mask>
<g clip-path="url(#ic1)">
<path d="M183.85,421.08 C186.62,419.85 191.23,418.15 194.92,417.38 C198.62,416.62 202.62,415.85 206,416.46 C209.38,417.08 212.46,419.08 215.23,421.08 C218,423.08 220.46,426 222.62,428.46 C224.77,430.92 226.62,433.38 228.15,435.85 C229.69,438.31 230.62,440.77 231.85,443.23 C233.08,445.69 234.31,448.46 235.54,450.62 C236.77,452.77 238.46,454 239.23,456.15 C240,458.31 239.85,461.08 240.15,463.54 C240.46,466 241.23,468.46 241.08,470.92 C240.92,473.38 240.15,476.15 239.23,478.31 C238.31,480.46 237.08,482.31 235.54,483.85 C234,485.38 232.15,486.31 230,487.54 C227.85,488.77 225.08,489.69 222.62,491.23 C220.15,492.77 218,495.54 215.23,496.77 C212.46,498 209.08,498.62 206,498.62 C202.92,498.62 199.23,498.31 196.77,496.77 C194.31,495.23 193.08,491.54 191.23,489.38 C189.38,487.23 187.54,486 185.69,483.85 C183.85,481.69 182.31,478.92 180.15,476.46 C178,474 174.62,471.23 172.77,469.08 C170.92,466.92 170,465.69 169.08,463.54 C168.15,461.38 167.23,458.92 167.23,456.15 C167.23,453.38 168.46,450 169.08,446.92 C169.69,443.85 170,440.46 170.92,437.69 C171.85,434.92 173.38,432.46 174.62,430.31 C175.85,428.15 176.77,426.31 178.31,424.77 C179.85,423.23 181.08,422.31 183.85,421.08Z" fill="#bbb" opacity="0.3" filter="url(#glow)"/>
<g mask="url(#cm1)">
<rect x="158.5" y="410.8" width="95" height="95" fill="#f7f7f7"/>
<rect x="158.5" y="410.8" width="95" height="95" filter="url(#fleck1)" opacity="0.8"/>
<path d="M183.85,421.08 C186.62,419.85 191.23,418.15 194.92,417.38 C198.62,416.62 202.62,415.85 206,416.46 C209.38,417.08 212.46,419.08 215.23,421.08 C218,423.08 220.46,426 222.62,428.46 C224.77,430.92 226.62,433.38 228.15,435.85 C229.69,438.31 230.62,440.77 231.85,443.23 C233.08,445.69 234.31,448.46 235.54,450.62 C236.77,452.77 238.46,454 239.23,456.15 C240,458.31 239.85,461.08 240.15,463.54 C240.46,466 241.23,468.46 241.08,470.92 C240.92,473.38 240.15,476.15 239.23,478.31 C238.31,480.46 237.08,482.31 235.54,483.85 C234,485.38 232.15,486.31 230,487.54 C227.85,488.77 225.08,489.69 222.62,491.23 C220.15,492.77 218,495.54 215.23,496.77 C212.46,498 209.08,498.62 206,498.62 C202.92,498.62 199.23,498.31 196.77,496.77 C194.31,495.23 193.08,491.54 191.23,489.38 C189.38,487.23 187.54,486 185.69,483.85 C183.85,481.69 182.31,478.92 180.15,476.46 C178,474 174.62,471.23 172.77,469.08 C170.92,466.92 170,465.69 169.08,463.54 C168.15,461.38 167.23,458.92 167.23,456.15 C167.23,453.38 168.46,450 169.08,446.92 C169.69,443.85 170,440.46 170.92,437.69 C171.85,434.92 173.38,432.46 174.62,430.31 C175.85,428.15 176.77,426.31 178.31,424.77 C179.85,423.23 181.08,422.31 183.85,421.08Z" fill="none" stroke="#fdfdfd" stroke-width="3.2" opacity="0.9" filter="url(#rimblur)"/>
<circle cx="204.52" cy="458.37" r="30.46" fill="url(#core)" filter="url(#dither1)" opacity="1"/>
<ellipse cx="169.8" cy="432.6" rx="1.9" ry="2.3" fill="#2a2a2a" opacity="0.9"/>
<ellipse cx="165.8" cy="447.8" rx="2.8" ry="5.5" fill="#2a2a2a" opacity="0.9"/>
</g>

</g>
<clipPath id="ic2"><rect x="267.4" y="410.8" width="94.3" height="94.3"/></clipPath>
<mask id="cm2" maskUnits="userSpaceOnUse" x="267.4" y="410.8" width="95" height="95"><g filter="url(#rough2)"><path d="M295.54,419.23 C297.23,417.85 298.31,417.08 300.15,417.38 C302,417.69 304.15,420.4 306.62,421.08 C309.08,421.75 313.38,420.68 314.92,421.45 C316.46,422.22 314.77,424.68 315.85,425.69 C316.92,426.71 319.23,426.77 321.38,427.54 C323.54,428.31 326.37,429.6 328.77,430.31 C331.17,431.02 334.8,431.02 335.78,431.78 C336.77,432.55 334,433.63 334.68,434.92 C335.35,436.22 338.37,437.54 339.85,439.54 C341.32,441.54 342.31,444.46 343.54,446.92 C344.77,449.38 346.15,452.4 347.23,454.31 C348.31,456.22 350.25,456.52 350,458.37 C349.75,460.22 346.06,463.14 345.75,465.38 C345.45,467.63 348.52,470.46 348.15,471.85 C347.78,473.23 344.92,472.31 343.54,473.69 C342.15,475.08 341.08,478.15 339.85,480.15 C338.62,482.15 337.69,483.85 336.15,485.69 C334.62,487.54 333.08,489.69 330.62,491.23 C328.15,492.77 324.46,494.46 321.38,494.92 C318.31,495.38 314.92,494.92 312.15,494 C309.38,493.08 307.23,491.08 304.77,489.38 C302.31,487.69 299.54,485.38 297.38,483.85 C295.23,482.31 293.69,482 291.85,480.15 C290,478.31 288.71,474.25 286.31,472.77 C283.91,471.29 278.22,472.06 277.45,471.29 C276.68,470.52 280.83,469.75 281.69,468.15 C282.55,466.55 283.08,464 282.62,461.69 C282.15,459.38 279.23,456.77 278.92,454.31 C278.62,451.85 280.77,448.77 280.77,446.92 C280.77,445.08 278.31,444.77 278.92,443.23 C279.54,441.69 283.29,439.54 284.46,437.69 C285.63,435.85 286.09,434.06 285.94,432.15 C285.78,430.25 282.86,427.32 283.54,426.25 C284.22,425.17 288,426.86 290,425.69 C292,424.52 293.85,420.62 295.54,419.23Z" fill="#fff"/></g></mask>
<g clip-path="url(#ic2)">
<path d="M295.54,419.23 C297.23,417.85 298.31,417.08 300.15,417.38 C302,417.69 304.15,420.4 306.62,421.08 C309.08,421.75 313.38,420.68 314.92,421.45 C316.46,422.22 314.77,424.68 315.85,425.69 C316.92,426.71 319.23,426.77 321.38,427.54 C323.54,428.31 326.37,429.6 328.77,430.31 C331.17,431.02 334.8,431.02 335.78,431.78 C336.77,432.55 334,433.63 334.68,434.92 C335.35,436.22 338.37,437.54 339.85,439.54 C341.32,441.54 342.31,444.46 343.54,446.92 C344.77,449.38 346.15,452.4 347.23,454.31 C348.31,456.22 350.25,456.52 350,458.37 C349.75,460.22 346.06,463.14 345.75,465.38 C345.45,467.63 348.52,470.46 348.15,471.85 C347.78,473.23 344.92,472.31 343.54,473.69 C342.15,475.08 341.08,478.15 339.85,480.15 C338.62,482.15 337.69,483.85 336.15,485.69 C334.62,487.54 333.08,489.69 330.62,491.23 C328.15,492.77 324.46,494.46 321.38,494.92 C318.31,495.38 314.92,494.92 312.15,494 C309.38,493.08 307.23,491.08 304.77,489.38 C302.31,487.69 299.54,485.38 297.38,483.85 C295.23,482.31 293.69,482 291.85,480.15 C290,478.31 288.71,474.25 286.31,472.77 C283.91,471.29 278.22,472.06 277.45,471.29 C276.68,470.52 280.83,469.75 281.69,468.15 C282.55,466.55 283.08,464 282.62,461.69 C282.15,459.38 279.23,456.77 278.92,454.31 C278.62,451.85 280.77,448.77 280.77,446.92 C280.77,445.08 278.31,444.77 278.92,443.23 C279.54,441.69 283.29,439.54 284.46,437.69 C285.63,435.85 286.09,434.06 285.94,432.15 C285.78,430.25 282.86,427.32 283.54,426.25 C284.22,425.17 288,426.86 290,425.69 C292,424.52 293.85,420.62 295.54,419.23Z" fill="#bbb" opacity="0.3" filter="url(#glow)"/>
<g mask="url(#cm2)">
<rect x="267.4" y="410.8" width="95" height="95" fill="#f7f7f7"/>
<rect x="267.4" y="410.8" width="95" height="95" filter="url(#fleck2)" opacity="0.95"/>
<path d="M295.54,419.23 C297.23,417.85 298.31,417.08 300.15,417.38 C302,417.69 304.15,420.4 306.62,421.08 C309.08,421.75 313.38,420.68 314.92,421.45 C316.46,422.22 314.77,424.68 315.85,425.69 C316.92,426.71 319.23,426.77 321.38,427.54 C323.54,428.31 326.37,429.6 328.77,430.31 C331.17,431.02 334.8,431.02 335.78,431.78 C336.77,432.55 334,433.63 334.68,434.92 C335.35,436.22 338.37,437.54 339.85,439.54 C341.32,441.54 342.31,444.46 343.54,446.92 C344.77,449.38 346.15,452.4 347.23,454.31 C348.31,456.22 350.25,456.52 350,458.37 C349.75,460.22 346.06,463.14 345.75,465.38 C345.45,467.63 348.52,470.46 348.15,471.85 C347.78,473.23 344.92,472.31 343.54,473.69 C342.15,475.08 341.08,478.15 339.85,480.15 C338.62,482.15 337.69,483.85 336.15,485.69 C334.62,487.54 333.08,489.69 330.62,491.23 C328.15,492.77 324.46,494.46 321.38,494.92 C318.31,495.38 314.92,494.92 312.15,494 C309.38,493.08 307.23,491.08 304.77,489.38 C302.31,487.69 299.54,485.38 297.38,483.85 C295.23,482.31 293.69,482 291.85,480.15 C290,478.31 288.71,474.25 286.31,472.77 C283.91,471.29 278.22,472.06 277.45,471.29 C276.68,470.52 280.83,469.75 281.69,468.15 C282.55,466.55 283.08,464 282.62,461.69 C282.15,459.38 279.23,456.77 278.92,454.31 C278.62,451.85 280.77,448.77 280.77,446.92 C280.77,445.08 278.31,444.77 278.92,443.23 C279.54,441.69 283.29,439.54 284.46,437.69 C285.63,435.85 286.09,434.06 285.94,432.15 C285.78,430.25 282.86,427.32 283.54,426.25 C284.22,425.17 288,426.86 290,425.69 C292,424.52 293.85,420.62 295.54,419.23Z" fill="none" stroke="#fdfdfd" stroke-width="3.2" opacity="0.9" filter="url(#rimblur)"/>
<circle cx="313.08" cy="452.46" r="27.69" fill="url(#core)" filter="url(#dither2)" opacity="0.85"/>
</g>
<line x1="282.62" y1="425.14" x2="289.08" y2="433.08" stroke="#ececec" stroke-width="1.4" stroke-linecap="round"/><line x1="308.46" y1="418.86" x2="307.54" y2="424.77" stroke="#ececec" stroke-width="1.3" stroke-linecap="round"/><line x1="314.92" y1="420.71" x2="314.37" y2="426.62" stroke="#ececec" stroke-width="1.2" stroke-linecap="round"/><line x1="336.52" y1="431.23" x2="330.62" y2="435.85" stroke="#ececec" stroke-width="1.3" stroke-linecap="round"/><line x1="350.92" y1="458.37" x2="343.54" y2="458.37" stroke="#ececec" stroke-width="1.3" stroke-linecap="round"/><line x1="348.71" y1="472.4" x2="342.62" y2="470" stroke="#ececec" stroke-width="1.3" stroke-linecap="round"/><line x1="276.71" y1="471.48" x2="284.46" y2="468.71" stroke="#ececec" stroke-width="1.4" stroke-linecap="round"/><line x1="340.77" y1="441.02" x2="336.15" y2="442.31" stroke="#ececec" stroke-width="1.1" stroke-linecap="round"/><line x1="325.08" y1="495.29" x2="324.15" y2="489.38" stroke="#ececec" stroke-width="1.1" stroke-linecap="round"/><line x1="277.08" y1="447.85" x2="283.54" y2="447.85" stroke="#ececec" stroke-width="1.2" stroke-linecap="round"/>
</g>
<clipPath id="ic3"><rect x="366.1" y="410.8" width="94.3" height="94.3"/></clipPath>
<mask id="cm3" maskUnits="userSpaceOnUse" x="366.1" y="410.8" width="95" height="95"><g filter="url(#rough3)"><path d="M411.15,417.38 C413.31,417.08 417.92,416.77 420.38,417.38 C422.85,418 424.08,419.23 425.92,421.08 C427.77,422.92 429.62,426.31 431.46,428.46 C433.31,430.62 435.77,431.85 437,434 C438.23,436.15 437.62,439.23 438.85,441.38 C440.08,443.54 443.15,444.77 444.38,446.92 C445.62,449.08 445.92,451.85 446.23,454.31 C446.54,456.77 446.54,459.23 446.23,461.69 C445.92,464.15 445,466.62 444.38,469.08 C443.77,471.54 443.46,474 442.54,476.46 C441.62,478.92 440.38,482 438.85,483.85 C437.31,485.69 435.46,486 433.31,487.54 C431.15,489.08 428.38,491.69 425.92,493.08 C423.46,494.46 421.31,495.54 418.54,495.85 C415.77,496.15 412.08,495.38 409.31,494.92 C406.54,494.46 404.38,494.31 401.92,493.08 C399.46,491.85 396.69,489.38 394.54,487.54 C392.38,485.69 390.54,484.15 389,482 C387.46,479.85 386.54,477.08 385.31,474.62 C384.08,472.15 382.54,469.38 381.62,467.23 C380.69,465.08 380.23,463.85 379.77,461.69 C379.31,459.54 378.85,457.08 378.85,454.31 C378.85,451.54 379,447.54 379.77,445.08 C380.54,442.62 382.54,441.38 383.46,439.54 C384.38,437.69 384.38,435.85 385.31,434 C386.23,432.15 387.46,430 389,428.46 C390.54,426.92 392.38,426 394.54,424.77 C396.69,423.54 399.77,422 401.92,421.08 C404.08,420.15 405.92,419.85 407.46,419.23 C409,418.62 409,417.69 411.15,417.38Z" fill="#fff"/></g></mask>
<g clip-path="url(#ic3)">
<path d="M411.15,417.38 C413.31,417.08 417.92,416.77 420.38,417.38 C422.85,418 424.08,419.23 425.92,421.08 C427.77,422.92 429.62,426.31 431.46,428.46 C433.31,430.62 435.77,431.85 437,434 C438.23,436.15 437.62,439.23 438.85,441.38 C440.08,443.54 443.15,444.77 444.38,446.92 C445.62,449.08 445.92,451.85 446.23,454.31 C446.54,456.77 446.54,459.23 446.23,461.69 C445.92,464.15 445,466.62 444.38,469.08 C443.77,471.54 443.46,474 442.54,476.46 C441.62,478.92 440.38,482 438.85,483.85 C437.31,485.69 435.46,486 433.31,487.54 C431.15,489.08 428.38,491.69 425.92,493.08 C423.46,494.46 421.31,495.54 418.54,495.85 C415.77,496.15 412.08,495.38 409.31,494.92 C406.54,494.46 404.38,494.31 401.92,493.08 C399.46,491.85 396.69,489.38 394.54,487.54 C392.38,485.69 390.54,484.15 389,482 C387.46,479.85 386.54,477.08 385.31,474.62 C384.08,472.15 382.54,469.38 381.62,467.23 C380.69,465.08 380.23,463.85 379.77,461.69 C379.31,459.54 378.85,457.08 378.85,454.31 C378.85,451.54 379,447.54 379.77,445.08 C380.54,442.62 382.54,441.38 383.46,439.54 C384.38,437.69 384.38,435.85 385.31,434 C386.23,432.15 387.46,430 389,428.46 C390.54,426.92 392.38,426 394.54,424.77 C396.69,423.54 399.77,422 401.92,421.08 C404.08,420.15 405.92,419.85 407.46,419.23 C409,418.62 409,417.69 411.15,417.38Z" fill="#bbb" opacity="0.3" filter="url(#glow)"/>
<g mask="url(#cm3)">
<rect x="366.1" y="410.8" width="95" height="95" fill="#f7f7f7"/>
<rect x="366.1" y="410.8" width="95" height="95" filter="url(#fleck3)" opacity="0.8"/>
<path d="M411.15,417.38 C413.31,417.08 417.92,416.77 420.38,417.38 C422.85,418 424.08,419.23 425.92,421.08 C427.77,422.92 429.62,426.31 431.46,428.46 C433.31,430.62 435.77,431.85 437,434 C438.23,436.15 437.62,439.23 438.85,441.38 C440.08,443.54 443.15,444.77 444.38,446.92 C445.62,449.08 445.92,451.85 446.23,454.31 C446.54,456.77 446.54,459.23 446.23,461.69 C445.92,464.15 445,466.62 444.38,469.08 C443.77,471.54 443.46,474 442.54,476.46 C441.62,478.92 440.38,482 438.85,483.85 C437.31,485.69 435.46,486 433.31,487.54 C431.15,489.08 428.38,491.69 425.92,493.08 C423.46,494.46 421.31,495.54 418.54,495.85 C415.77,496.15 412.08,495.38 409.31,494.92 C406.54,494.46 404.38,494.31 401.92,493.08 C399.46,491.85 396.69,489.38 394.54,487.54 C392.38,485.69 390.54,484.15 389,482 C387.46,479.85 386.54,477.08 385.31,474.62 C384.08,472.15 382.54,469.38 381.62,467.23 C380.69,465.08 380.23,463.85 379.77,461.69 C379.31,459.54 378.85,457.08 378.85,454.31 C378.85,451.54 379,447.54 379.77,445.08 C380.54,442.62 382.54,441.38 383.46,439.54 C384.38,437.69 384.38,435.85 385.31,434 C386.23,432.15 387.46,430 389,428.46 C390.54,426.92 392.38,426 394.54,424.77 C396.69,423.54 399.77,422 401.92,421.08 C404.08,420.15 405.92,419.85 407.46,419.23 C409,418.62 409,417.69 411.15,417.38Z" fill="none" stroke="#fdfdfd" stroke-width="3.2" opacity="0.9" filter="url(#rimblur)"/>
<circle cx="408.94" cy="450.62" r="20.68" fill="url(#core)" filter="url(#dither3)" opacity="0.9"/>
<circle cx="411.52" cy="462.62" r="19.38" fill="url(#core)" filter="url(#dither3)" opacity="0.9"/>
</g>

</g>
<line x1="126.8" y1="501" x2="150.8" y2="501" stroke="#ffffff" stroke-width="1.6"/>
<line x1="224.5" y1="501" x2="248" y2="501" stroke="#ffffff" stroke-width="1.6"/>
<line x1="335.7" y1="501" x2="358.8" y2="501" stroke="#ffffff" stroke-width="1.6"/>
<line x1="433.9" y1="501" x2="457.7" y2="501" stroke="#ffffff" stroke-width="1.6"/>
<text x="2.6" y="528.4" font-size="13.2" text-anchor="start" font-weight="bold" >F</text>
<line x1="57.8" y1="533.8" x2="57.8" y2="676.3" stroke="#777777" stroke-width="1.2"/>
<line x1="53.8" y1="675.7" x2="57.8" y2="675.7" stroke="#777777" stroke-width="1.2"/>
<text x="52.8" y="679.39" font-size="10.3" text-anchor="end" font-weight="normal" >0</text>
<line x1="53.8" y1="628.65" x2="57.8" y2="628.65" stroke="#777777" stroke-width="1.2"/>
<text x="52.8" y="632.34" font-size="10.3" text-anchor="end" font-weight="normal" >2000</text>
<line x1="53.8" y1="581.6" x2="57.8" y2="581.6" stroke="#777777" stroke-width="1.2"/>
<text x="52.8" y="585.29" font-size="10.3" text-anchor="end" font-weight="normal" >4000</text>
<line x1="53.8" y1="534.55" x2="57.8" y2="534.55" stroke="#777777" stroke-width="1.2"/>
<text x="52.8" y="538.24" font-size="10.3" text-anchor="end" font-weight="normal" >6000</text>
<text x="0" y="0" font-size="9.6" text-anchor="middle" transform="translate(22.1 604.4) rotate(-90)" >IFN-&#947; (pg/ml)</text>
<line x1="72" y1="674.2" x2="72" y2="673.2" stroke="#333" stroke-width="1"/>
<line x1="69.25" y1="673.2" x2="74.75" y2="673.2" stroke="#333" stroke-width="1"/>
<rect x="66.8" y="674.7" width="10.4" height="1" fill="#8e2329" stroke="#2b2b2b" stroke-width="1"/>
<rect x="143.8" y="675" width="10.4" height="0.5" fill="#8e2329" stroke="#2b2b2b" stroke-width="1"/>
<line x1="88.2" y1="672" x2="88.2" y2="669.5" stroke="#333" stroke-width="1"/>
<line x1="85.45" y1="669.5" x2="90.95" y2="669.5" stroke="#333" stroke-width="1"/>
<rect x="83" y="672.5" width="10.4" height="3.2" fill="#e4a1a4" stroke="#2b2b2b" stroke-width="1"/>
<rect x="160" y="675" width="10.4" height="0.5" fill="#e4a1a4" stroke="#2b2b2b" stroke-width="1"/>
<line x1="104.9" y1="598.8" x2="104.9" y2="572.3" stroke="#333" stroke-width="1"/>
<line x1="102.15" y1="572.3" x2="107.65" y2="572.3" stroke="#333" stroke-width="1"/>
<rect x="99.7" y="599.3" width="10.4" height="76.4" fill="#2f3e94" stroke="#2b2b2b" stroke-width="1"/>
<line x1="181.9" y1="660.8" x2="181.9" y2="651.8" stroke="#333" stroke-width="1"/>
<line x1="179.15" y1="651.8" x2="184.65" y2="651.8" stroke="#333" stroke-width="1"/>
<rect x="176.7" y="661.3" width="10.4" height="14.4" fill="#2f3e94" stroke="#2b2b2b" stroke-width="1"/>
<line x1="121.1" y1="557.4" x2="121.1" y2="542.5" stroke="#333" stroke-width="1"/>
<line x1="118.35" y1="542.5" x2="123.85" y2="542.5" stroke="#333" stroke-width="1"/>
<rect x="115.9" y="557.9" width="10.4" height="117.8" fill="#a3bee4" stroke="#2b2b2b" stroke-width="1"/>
<line x1="198.1" y1="631.3" x2="198.1" y2="613.8" stroke="#333" stroke-width="1"/>
<line x1="195.35" y1="613.8" x2="200.85" y2="613.8" stroke="#333" stroke-width="1"/>
<rect x="192.9" y="631.8" width="10.4" height="43.9" fill="#a3bee4" stroke="#2b2b2b" stroke-width="1"/>
<line x1="57.8" y1="675.7" x2="212.5" y2="675.7" stroke="#777777" stroke-width="1.2"/>
<line x1="96.5" y1="675.7" x2="96.5" y2="678.7" stroke="#777777" stroke-width="1.2"/>
<line x1="173.7" y1="675.7" x2="173.7" y2="678.7" stroke="#777777" stroke-width="1.2"/>
<text x="96.5" y="689.91" font-size="9.8" text-anchor="middle" font-weight="normal" >Remission</text>
<text x="173.7" y="690.11" font-size="9.8" text-anchor="middle" font-weight="normal" >Relapsing</text>
<polyline points="103.8,527.8 103.8,524.1 184.8,524.1 184.8,527.8" fill="none" stroke="#333" stroke-width="1"/>
<line x1="137.1" y1="517.35" x2="137.1" y2="521.85" stroke="#222" stroke-width="1"/>
<line x1="135.15" y1="518.48" x2="139.05" y2="520.73" stroke="#222" stroke-width="1"/>
<line x1="139.05" y1="518.48" x2="135.15" y2="520.73" stroke="#222" stroke-width="1"/>
<line x1="142.9" y1="517.35" x2="142.9" y2="521.85" stroke="#222" stroke-width="1"/>
<line x1="140.95" y1="518.48" x2="144.85" y2="520.73" stroke="#222" stroke-width="1"/>
<line x1="144.85" y1="518.48" x2="140.95" y2="520.73" stroke="#222" stroke-width="1"/>
<line x1="148.7" y1="517.35" x2="148.7" y2="521.85" stroke="#222" stroke-width="1"/>
<line x1="146.75" y1="518.48" x2="150.65" y2="520.73" stroke="#222" stroke-width="1"/>
<line x1="150.65" y1="518.48" x2="146.75" y2="520.73" stroke="#222" stroke-width="1"/>
<polyline points="104.6,538.8 104.6,535.8 121.4,535.8 121.4,538.8" fill="none" stroke="#333" stroke-width="1"/>
<line x1="112.5" y1="529.95" x2="112.5" y2="534.45" stroke="#222" stroke-width="1"/>
<line x1="110.55" y1="531.08" x2="114.45" y2="533.33" stroke="#222" stroke-width="1"/>
<line x1="114.45" y1="531.08" x2="110.55" y2="533.33" stroke="#222" stroke-width="1"/>
<polyline points="181.8,612.5 181.8,609.5 198.2,609.5 198.2,612.5" fill="none" stroke="#333" stroke-width="1"/>
<line x1="190.5" y1="603.25" x2="190.5" y2="607.75" stroke="#222" stroke-width="1"/>
<line x1="188.55" y1="604.38" x2="192.45" y2="606.62" stroke="#222" stroke-width="1"/>
<line x1="192.45" y1="604.38" x2="188.55" y2="606.62" stroke="#222" stroke-width="1"/>
<rect x="77" y="702.3" width="14.8" height="4.6" fill="#8e2329" stroke="#333" stroke-width="0.8"/>
<text x="100" y="708.04" font-size="9.6" text-anchor="start" font-weight="normal" >DMSO</text>
<rect x="77" y="717.9" width="14.8" height="4.6" fill="#e4a1a4" stroke="#333" stroke-width="0.8"/>
<text x="100" y="723.64" font-size="9.6" text-anchor="start" font-weight="normal" >1 &#956;M Len</text>
<rect x="77" y="732.5" width="14.8" height="4.6" fill="#2f3e94" stroke="#333" stroke-width="0.8"/>
<text x="100" y="738.24" font-size="9.6" text-anchor="start" font-weight="normal" >DMSO</text>
<rect x="77" y="748.2" width="14.8" height="4.6" fill="#a3bee4" stroke="#333" stroke-width="0.8"/>
<text x="100" y="753.94" font-size="9.6" text-anchor="start" font-weight="normal" >1 &#956;M Len</text>
<line x1="145" y1="700" x2="145" y2="724.5" stroke="#3a3a3a" stroke-width="0.9"/>
<line x1="145" y1="730.5" x2="145" y2="754.5" stroke="#3a3a3a" stroke-width="0.9"/>
<text x="151.2" y="715.37" font-size="9.4" text-anchor="start" font-weight="normal" >Isotype</text>
<text x="151.2" y="745.57" font-size="9.4" text-anchor="start" font-weight="normal" >&#945;CD16</text>
<text x="247" y="528" font-size="13.2" text-anchor="start" font-weight="bold" >G</text>
<line x1="310.3" y1="535.4" x2="310.3" y2="619.1" stroke="#3c3c3c" stroke-width="1.2"/>
<line x1="307" y1="618.5" x2="310.3" y2="618.5" stroke="#3c3c3c" stroke-width="1.2"/>
<text x="305.2" y="622.15" font-size="10.2" text-anchor="end" font-weight="normal" >0</text>
<line x1="307" y1="591.05" x2="310.3" y2="591.05" stroke="#3c3c3c" stroke-width="1.2"/>
<text x="305.2" y="594.7" font-size="10.2" text-anchor="end" font-weight="normal" >2</text>
<line x1="307" y1="563.6" x2="310.3" y2="563.6" stroke="#3c3c3c" stroke-width="1.2"/>
<text x="305.2" y="567.25" font-size="10.2" text-anchor="end" font-weight="normal" >4</text>
<line x1="307" y1="536.15" x2="310.3" y2="536.15" stroke="#3c3c3c" stroke-width="1.2"/>
<text x="305.2" y="539.8" font-size="10.2" text-anchor="end" font-weight="normal" >6</text>
<text x="0" y="0" font-size="10.2" text-anchor="middle" transform="translate(284.05 576) rotate(-90)" >Penetrable area (%)</text>
<text x="410.5" y="533.15" font-size="13" text-anchor="middle" font-weight="normal" >200-300 nm</text>
<line x1="328.7" y1="613.5" x2="328.7" y2="610.1" stroke="#333" stroke-width="1"/>
<line x1="325.2" y1="610.1" x2="332.2" y2="610.1" stroke="#333" stroke-width="1"/>
<rect x="321.8" y="614" width="13.8" height="4.5" fill="#8e2329" stroke="#2b2b2b" stroke-width="1"/>
<line x1="431.7" y1="613.5" x2="431.7" y2="607.9" stroke="#333" stroke-width="1"/>
<line x1="428.2" y1="607.9" x2="435.2" y2="607.9" stroke="#333" stroke-width="1"/>
<rect x="424.8" y="614" width="13.8" height="4.5" fill="#8e2329" stroke="#2b2b2b" stroke-width="1"/>
<line x1="351" y1="610.8" x2="351" y2="604.1" stroke="#333" stroke-width="1"/>
<line x1="347.5" y1="604.1" x2="354.5" y2="604.1" stroke="#333" stroke-width="1"/>
<rect x="344.1" y="611.3" width="13.8" height="7.2" fill="#e4a1a4" stroke="#2b2b2b" stroke-width="1"/>
<line x1="454" y1="612.2" x2="454" y2="607.3" stroke="#333" stroke-width="1"/>
<line x1="450.5" y1="607.3" x2="457.5" y2="607.3" stroke="#333" stroke-width="1"/>
<rect x="447.1" y="612.7" width="13.8" height="5.8" fill="#e4a1a4" stroke="#2b2b2b" stroke-width="1"/>
<line x1="373.2" y1="589.3" x2="373.2" y2="577.7" stroke="#333" stroke-width="1"/>
<line x1="369.7" y1="577.7" x2="376.7" y2="577.7" stroke="#333" stroke-width="1"/>
<rect x="366.3" y="589.8" width="13.8" height="28.7" fill="#2f3e94" stroke="#2b2b2b" stroke-width="1"/>
<line x1="476.2" y1="603.8" x2="476.2" y2="592" stroke="#333" stroke-width="1"/>
<line x1="472.7" y1="592" x2="479.7" y2="592" stroke="#333" stroke-width="1"/>
<rect x="469.3" y="604.3" width="13.8" height="14.2" fill="#2f3e94" stroke="#2b2b2b" stroke-width="1"/>
<line x1="395.4" y1="568.3" x2="395.4" y2="544.6" stroke="#333" stroke-width="1"/>
<line x1="391.9" y1="544.6" x2="398.9" y2="544.6" stroke="#333" stroke-width="1"/>
<rect x="388.5" y="568.8" width="13.8" height="49.7" fill="#a3bee4" stroke="#2b2b2b" stroke-width="1"/>
<line x1="498.4" y1="587.1" x2="498.4" y2="577.2" stroke="#333" stroke-width="1"/>
<line x1="494.9" y1="577.2" x2="501.9" y2="577.2" stroke="#333" stroke-width="1"/>
<rect x="491.5" y="587.6" width="13.8" height="30.9" fill="#a3bee4" stroke="#2b2b2b" stroke-width="1"/>
<line x1="310.3" y1="618.5" x2="514.5" y2="618.5" stroke="#3c3c3c" stroke-width="1.2"/>
<line x1="361.7" y1="618.5" x2="361.7" y2="621.5" stroke="#3c3c3c" stroke-width="1.2"/>
<line x1="465.6" y1="618.5" x2="465.6" y2="621.5" stroke="#3c3c3c" stroke-width="1.2"/>
<text x="361.7" y="633.98" font-size="10" text-anchor="middle" font-weight="normal" >Remission</text>
<text x="465.6" y="633.98" font-size="10" text-anchor="middle" font-weight="normal" >Relapsing</text>
<line x1="311.2" y1="660.4" x2="311.2" y2="743.1" stroke="#3c3c3c" stroke-width="1.2"/>
<line x1="307.9" y1="742.5" x2="311.2" y2="742.5" stroke="#3c3c3c" stroke-width="1.2"/>
<text x="306.1" y="746.15" font-size="10.2" text-anchor="end" font-weight="normal" >0.0</text>
<line x1="307.9" y1="715.35" x2="311.2" y2="715.35" stroke="#3c3c3c" stroke-width="1.2"/>
<text x="306.1" y="719" font-size="10.2" text-anchor="end" font-weight="normal" >0.5</text>
<line x1="307.9" y1="688.2" x2="311.2" y2="688.2" stroke="#3c3c3c" stroke-width="1.2"/>
<text x="306.1" y="691.85" font-size="10.2" text-anchor="end" font-weight="normal" >1.0</text>
<line x1="307.9" y1="661.05" x2="311.2" y2="661.05" stroke="#3c3c3c" stroke-width="1.2"/>
<text x="306.1" y="664.7" font-size="10.2" text-anchor="end" font-weight="normal" >1.5</text>
<text x="0" y="0" font-size="10.2" text-anchor="middle" transform="translate(284.85 700.8) rotate(-90)" >Penetrable area (%)</text>
<text x="410" y="658.95" font-size="13" text-anchor="middle" font-weight="normal" >301-500 nm</text>
<line x1="329.2" y1="741.6" x2="329.2" y2="740.4" stroke="#333" stroke-width="1"/>
<line x1="325.7" y1="740.4" x2="332.7" y2="740.4" stroke="#333" stroke-width="1"/>
<rect x="322.3" y="741.6" width="13.8" height="0.5" fill="#8e2329" stroke="#2b2b2b" stroke-width="1"/>
<rect x="424.9" y="741.9" width="13.8" height="0.5" fill="#8e2329" stroke="#2b2b2b" stroke-width="1"/>
<line x1="351" y1="741.2" x2="351" y2="740.2" stroke="#333" stroke-width="1"/>
<line x1="347.5" y1="740.2" x2="354.5" y2="740.2" stroke="#333" stroke-width="1"/>
<rect x="344.1" y="741.7" width="13.8" height="0.8" fill="#e4a1a4" stroke="#2b2b2b" stroke-width="1"/>
<rect x="447.3" y="741.9" width="13.8" height="0.5" fill="#e4a1a4" stroke="#2b2b2b" stroke-width="1"/>
<line x1="373.2" y1="727" x2="373.2" y2="718" stroke="#333" stroke-width="1"/>
<line x1="369.7" y1="718" x2="376.7" y2="718" stroke="#333" stroke-width="1"/>
<rect x="366.3" y="727.5" width="13.8" height="15" fill="#2f3e94" stroke="#2b2b2b" stroke-width="1"/>
<rect x="467.6" y="740.9" width="13.8" height="1.6" fill="#2f3e94" stroke="#2b2b2b" stroke-width="1"/>
<line x1="394.9" y1="700.5" x2="394.9" y2="677.1" stroke="#333" stroke-width="1"/>
<line x1="391.4" y1="677.1" x2="398.4" y2="677.1" stroke="#333" stroke-width="1"/>
<rect x="388" y="701" width="13.8" height="41.5" fill="#a3bee4" stroke="#2b2b2b" stroke-width="1"/>
<line x1="496.2" y1="724" x2="496.2" y2="718.3" stroke="#333" stroke-width="1"/>
<line x1="492.7" y1="718.3" x2="499.7" y2="718.3" stroke="#333" stroke-width="1"/>
<rect x="489.3" y="724.5" width="13.8" height="18" fill="#a3bee4" stroke="#2b2b2b" stroke-width="1"/>
<line x1="311.2" y1="742.5" x2="514.2" y2="742.5" stroke="#3c3c3c" stroke-width="1.2"/>
<line x1="361.7" y1="742.5" x2="361.7" y2="745.5" stroke="#3c3c3c" stroke-width="1.2"/>
<line x1="463.3" y1="742.5" x2="463.3" y2="745.5" stroke="#3c3c3c" stroke-width="1.2"/>
<text x="361.7" y="757.88" font-size="10" text-anchor="middle" font-weight="normal" >Remission</text>
<text x="463.3" y="757.88" font-size="10" text-anchor="middle" font-weight="normal" >Relapsing</text>
<polyline points="371.9,674.2 372.4,673 473.6,673 473.6,702" fill="none" stroke="#333" stroke-width="1"/>
<line x1="424.4" y1="665.25" x2="424.4" y2="669.75" stroke="#222" stroke-width="1"/>
<line x1="422.45" y1="666.38" x2="426.35" y2="668.62" stroke="#222" stroke-width="1"/>
<line x1="426.35" y1="666.38" x2="422.45" y2="668.62" stroke="#222" stroke-width="1"/>
<polyline points="473.8,715.6 473.8,713.7 495.5,713.7 495.5,715.6" fill="none" stroke="#333" stroke-width="1"/>
<line x1="485" y1="706.95" x2="485" y2="711.45" stroke="#222" stroke-width="1"/>
<line x1="483.05" y1="708.08" x2="486.95" y2="710.33" stroke="#222" stroke-width="1"/>
<line x1="486.95" y1="708.08" x2="483.05" y2="710.33" stroke="#222" stroke-width="1"/></svg>
</body></html>
